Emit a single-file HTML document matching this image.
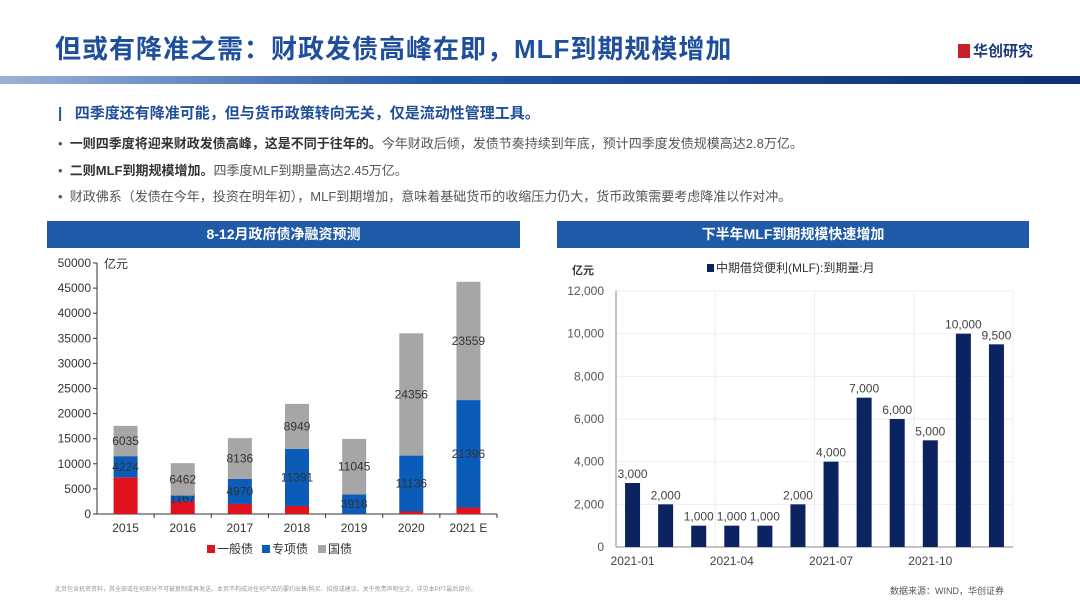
<!DOCTYPE html>
<html><head><meta charset="utf-8"><style>
body{margin:0;width:1080px;height:608px;background:#fff;font-family:"Liberation Sans","Noto Sans CJK SC",sans-serif;position:relative;overflow:hidden}
.abs{position:absolute}
#title{left:55px;top:29px;font-size:26px;font-weight:bold;color:#1f4e9a;letter-spacing:1px}
#stripe{left:0;top:76px;width:1080px;height:8px;background:linear-gradient(90deg,#9bb3d6,#2458a6 40%,#0d2f73)}
#logo{left:958px;top:40px;font-size:15px;font-weight:bold;color:#1a3a7a}
.hdr{color:#1f4e9a;font-weight:bold;font-size:15px;left:58px;top:102px}
.b{font-size:13px;color:#555;left:58px}
.b strong{color:#333}
.sec{top:221px;height:27px;background:#1f5aa8;color:#fff;font-weight:bold;font-size:14px;text-align:center;line-height:27px}
</style></head><body>
<div class="abs" id="title">但或有降准之需：财政发债高峰在即，MLF到期规模增加</div>
<div class="abs" id="logo"><span style="display:inline-block;width:12px;height:14px;background:#c8202a;margin-right:3px;vertical-align:-2px"></span>华创研究</div>
<div class="abs" id="stripe"></div>
<div class="abs hdr">|&nbsp;&nbsp;&nbsp;四季度还有降准可能，但与货币政策转向无关，仅是流动性管理工具。</div>
<div class="abs b" style="top:133px">•&nbsp;&nbsp;<strong>一则四季度将迎来财政发债高峰，这是不同于往年的。</strong>今年财政后倾，发债节奏持续到年底，预计四季度发债规模高达2.8万亿。</div>
<div class="abs b" style="top:160px">•&nbsp;&nbsp;<strong>二则MLF到期规模增加。</strong>四季度MLF到期量高达2.45万亿。</div>
<div class="abs b" style="top:186px">•&nbsp;&nbsp;财政佛系（发债在今年，投资在明年初），MLF到期增加，意味着基础货币的收缩压力仍大，货币政策需要考虑降准以作对冲。</div>
<div class="abs sec" style="left:47px;width:473px">8-12月政府债净融资预测</div>
<div class="abs sec" style="left:557px;width:472px">下半年MLF到期规模快速增加</div>
<svg class="abs" style="left:0;top:0" width="1080" height="608" id="svg"></svg>
<div class="abs" style="left:55px;top:584px;font-size:6px;color:#999">此页包含机密资料，其全部或任何部分不可被复制或再发送。本页不构成对任何产品的要约出售/购买、招揽或建议。关于免责声明全文，详见本PPT最后部分。</div>
<div class="abs" style="left:890px;top:584px;font-size:9px;color:#555">数据来源：WIND，华创证券</div>
<script>
const years=["2015","2016","2017","2018","2019","2020","2021 E"];
const general=[7300,2500,2000,1600,0,500,1300];
const special=[4224,1167,4970,11391,3918,11136,21396];
const national=[6035,6462,8136,8949,11045,24356,23559];
const leftTicks=[0,5000,10000,15000,20000,25000,30000,35000,40000,45000,50000];
const months=["2021-01","2021-02","2021-03","2021-04","2021-05","2021-06","2021-07","2021-08","2021-09","2021-10","2021-11","2021-12"];
const mlf=[3000,2000,1000,1000,1000,2000,4000,7000,6000,5000,10000,9500];
const rightTicks=[0,2000,4000,6000,8000,10000,12000];
const rightTickLabels=["0","2,000","4,000","6,000","8,000","10,000","12,000"];
const svg=document.getElementById('svg');
function mk(t,a,txt){const e=document.createElementNS('http://www.w3.org/2000/svg',t);for(const k in a)e.setAttribute(k,a[k]);if(txt!=null)e.textContent=txt;svg.appendChild(e);return e;}
const L={x0:97,x1:497,y0:514,y1:263,max:50000};
const ly=v=>L.y0-(v/L.max)*(L.y0-L.y1);
const slotL=(L.x1-L.x0)/years.length;
const lx=i=>L.x0+slotL*(i+0.5);
leftTicks.forEach(t=>{let e=mk('text',{x:L.x0-6,y:ly(t)+4,'text-anchor':'end','font-size':12,fill:'#333'},t);

mk('line',{x1:L.x0-4,x2:L.x0,y1:ly(t),y2:ly(t),stroke:'#333'});});
mk('line',{x1:L.x0,x2:L.x0,y1:L.y1,y2:L.y0,stroke:'#333'});
mk('line',{x1:L.x0,x2:L.x1,y1:L.y0,y2:L.y0,stroke:'#333'});
mk('text',{x:104,y:268,'font-size':12,fill:'#333'},'亿元');
const cols=['#e0121e','#0a5cb8','#a6a6a6'];
years.forEach((y,i)=>{
 let base=0;[general[i],special[i],national[i]].forEach((v,k)=>{
  const r=mk('rect',{x:lx(i)-12,y:ly(base+v),width:24,height:ly(base)-ly(base+v),fill:cols[k]});
  
  
  if(k>0){mk('text',{x:lx(i),y:(ly(base)+ly(base+v))/2+4,'text-anchor':'middle','font-size':12,fill:'#333'},v);}
  base+=v;});
 mk('line',{x1:L.x0+slotL*(i+1),x2:L.x0+slotL*(i+1),y1:L.y0,y2:L.y0+4,stroke:'#333'});
 const t=mk('text',{x:lx(i),y:L.y0+18,'text-anchor':'middle','font-size':12,fill:'#333'},y);
 
});
[['一般债',cols[0],207],['专项债',cols[1],262],['国债',cols[2],318]].forEach(([n,c,x])=>{
 mk('rect',{x:x,y:545,width:8,height:8,fill:c});
 const t=mk('text',{x:x+10,y:553,'font-size':12,fill:'#333'},n);
 });
const R={x0:616,x1:1013,y0:547,y1:291,max:12000};
const ry=v=>R.y0-(v/R.max)*(R.y0-R.y1);
const slotR=(R.x1-R.x0)/months.length;
const rx=i=>R.x0+slotR*(i+0.5);
rightTicks.forEach((t,j)=>{
 if(t>0)mk('line',{x1:R.x0,x2:R.x1,y1:ry(t),y2:ry(t),stroke:'#eee'});
 const e=mk('text',{x:R.x0-12,y:ry(t)+4,'text-anchor':'end','font-size':12,fill:'#555'},rightTickLabels[j]);
 });
[3,6,9,12].forEach(k=>mk('line',{x1:R.x0+slotR*k,x2:R.x0+slotR*k,y1:R.y1,y2:R.y0,stroke:'#eee'}));
mk('line',{x1:R.x0,x2:R.x0,y1:R.y1,y2:R.y0,stroke:'#888'});
mk('line',{x1:R.x0,x2:R.x1,y1:R.y0,y2:R.y0,stroke:'#888'});
mk('text',{x:572,y:274,'font-size':11,fill:'#333','font-weight':'bold'},'亿元');
mk('rect',{x:707,y:264,width:7,height:8,fill:'#0b2360'});
mk('text',{x:716,y:272,'font-size':12,fill:'#333'},'中期借贷便利(MLF):到期量:月');
mlf.forEach((v,i)=>{
 const r=mk('rect',{x:rx(i)-7.5,y:ry(v),width:15,height:R.y0-ry(v),fill:'#0b2360'});
 
 mk('text',{x:rx(i),y:ry(v)-5,'text-anchor':'middle','font-size':12,fill:'#444'},v.toLocaleString('en-US'));
 if(i%3==0){const t=mk('text',{x:rx(i),y:R.y0+18,'text-anchor':'middle','font-size':12,fill:'#444'},months[i]);
 }
});
</script>
</body></html>
